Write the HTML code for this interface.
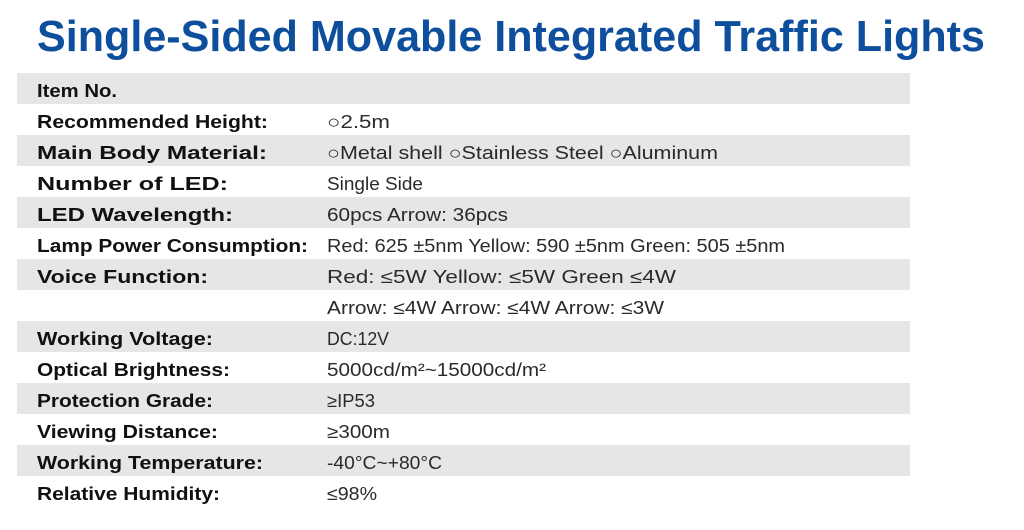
<!DOCTYPE html>
<html><head><meta charset="utf-8"><style>
html,body{margin:0;padding:0;background:#fff;width:1024px;height:530px;overflow:hidden}
svg{display:block}
.l{font-family:"Liberation Sans",sans-serif;font-weight:bold;font-size:18px;fill:#111}
.v{font-family:"Liberation Sans","DejaVu Sans",sans-serif;font-size:18px;fill:#2a2a2a}
</style></head><body>
<svg width="1024" height="530" xmlns="http://www.w3.org/2000/svg">
<text x="37" y="51" textLength="948" lengthAdjust="spacingAndGlyphs" style="font-family:'Liberation Sans',sans-serif;font-weight:bold;font-size:44px;fill:#0d4f9c">Single-Sided Movable Integrated Traffic Lights</text>
<g fill="#e6e6e6">
<rect x="17" y="73" width="893" height="31"/>
<rect x="17" y="135" width="893" height="31"/>
<rect x="17" y="197" width="893" height="31"/>
<rect x="17" y="259" width="893" height="31"/>
<rect x="17" y="321" width="893" height="31"/>
<rect x="17" y="383" width="893" height="31"/>
<rect x="17" y="445" width="893" height="31"/>
</g>
<g class="l" transform="translate(0,2)">
<text x="37" y="95" textLength="80" lengthAdjust="spacingAndGlyphs">Item No.</text>
<text x="37" y="126" textLength="231" lengthAdjust="spacingAndGlyphs">Recommended Height:</text>
<text x="37" y="157" textLength="230" lengthAdjust="spacingAndGlyphs">Main Body Material:</text>
<text x="37" y="188" textLength="191" lengthAdjust="spacingAndGlyphs">Number of LED:</text>
<text x="37" y="219" textLength="196" lengthAdjust="spacingAndGlyphs">LED Wavelength:</text>
<text x="37" y="250" textLength="271" lengthAdjust="spacingAndGlyphs">Lamp Power Consumption:</text>
<text x="37" y="281" textLength="171" lengthAdjust="spacingAndGlyphs">Voice Function:</text>
<text x="37" y="343" textLength="176" lengthAdjust="spacingAndGlyphs">Working Voltage:</text>
<text x="37" y="374" textLength="193" lengthAdjust="spacingAndGlyphs">Optical Brightness:</text>
<text x="37" y="405" textLength="176" lengthAdjust="spacingAndGlyphs">Protection Grade:</text>
<text x="37" y="436" textLength="181" lengthAdjust="spacingAndGlyphs">Viewing Distance:</text>
<text x="37" y="467" textLength="226" lengthAdjust="spacingAndGlyphs">Working Temperature:</text>
<text x="37" y="498" textLength="183" lengthAdjust="spacingAndGlyphs">Relative Humidity:</text>
</g>
<g class="v" transform="translate(0,2)">
<text x="327" y="126" textLength="63" lengthAdjust="spacingAndGlyphs">○2.5m</text>
<text x="327" y="157" textLength="391" lengthAdjust="spacingAndGlyphs">○Metal shell  ○Stainless Steel  ○Aluminum</text>
<text x="327" y="188" textLength="96" lengthAdjust="spacingAndGlyphs">Single Side</text>
<text x="327" y="219" textLength="181" lengthAdjust="spacingAndGlyphs">60pcs  Arrow: 36pcs</text>
<text x="327" y="250" textLength="458" lengthAdjust="spacingAndGlyphs">Red: 625 ±5nm  Yellow: 590 ±5nm  Green: 505 ±5nm</text>
<text x="327" y="281" textLength="349" lengthAdjust="spacingAndGlyphs">Red: ≤5W  Yellow: ≤5W  Green ≤4W</text>
<text x="327" y="312" textLength="337" lengthAdjust="spacingAndGlyphs">Arrow: ≤4W  Arrow: ≤4W  Arrow: ≤3W</text>
<text x="327" y="343" textLength="62" lengthAdjust="spacingAndGlyphs">DC:12V</text>
<text x="327" y="374" textLength="219" lengthAdjust="spacingAndGlyphs">5000cd/m²~15000cd/m²</text>
<text x="327" y="405" textLength="48" lengthAdjust="spacingAndGlyphs">≥IP53</text>
<text x="327" y="436" textLength="63" lengthAdjust="spacingAndGlyphs">≥300m</text>
<text x="327" y="467" textLength="115" lengthAdjust="spacingAndGlyphs">-40°C~+80°C</text>
<text x="327" y="498" textLength="50" lengthAdjust="spacingAndGlyphs">≤98%</text>
</g>
</svg>
</body></html>
